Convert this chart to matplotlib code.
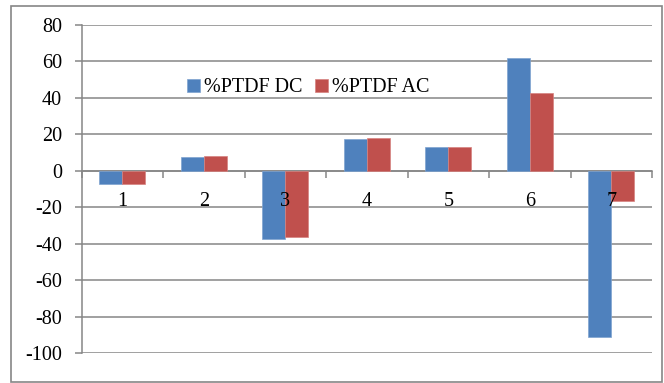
import numpy as np
import matplotlib.pyplot as plt
from matplotlib.patches import Rectangle

plt.rcParams['font.family'] = ['Liberation Serif', 'DejaVu Serif']

categories = ['1', '2', '3', '4', '5', '6', '7']
ptdf_dc = [-7.5, 7.8, -37.7, 17.6, 13.0, 62.0, -91.3]
ptdf_ac = [-7.5, 8.3, -36.2, 18.1, 13.3, 42.8, -16.8]
y_ticks = [-100, -80, -60, -40, -20, 0, 20, 40, 60, 80]

blue = '#4F81BD'
red = '#C0504D'
grey = '#868686'

fig = plt.figure(figsize=(6.64, 3.83), dpi=100)
ax = fig.add_axes([0.123, 0.0783, 0.859, 0.8564])

x = np.arange(1, len(categories) + 1)
w = 0.283
ax.bar(x - w / 2, ptdf_dc, w, color=blue, edgecolor='#7FA3D0', linewidth=0.5,
       label='%PTDF DC', zorder=3)
ax.bar(x + w / 2, ptdf_ac, w, color=red, edgecolor='#D68380', linewidth=0.5,
       label='%PTDF AC', zorder=3)

ax.set_xlim(0.5, len(categories) + 0.5)
ax.set_ylim(-100, 80)
ax.set_yticks(y_ticks)
ax.set_yticklabels([str(v) for v in y_ticks])
ax.yaxis.grid(True, color=grey, linewidth=1.1)
# gridlines behind the bars, category labels on top of them
ax.yaxis.set_zorder(0.5)
ax.xaxis.set_zorder(4)

# category axis crosses at zero, tick marks between categories
ax.spines['bottom'].set_position(('data', 0))
ax.spines['bottom'].set_color(grey)
ax.spines['bottom'].set_linewidth(1.1)
ax.spines['left'].set_color(grey)
ax.spines['left'].set_linewidth(1.1)
ax.spines['top'].set_visible(False)
ax.spines['right'].set_visible(False)

ax.set_xticks(np.arange(0.5, len(categories) + 1, 1.0))
ax.set_xticklabels([])
ax.set_xticks(x, minor=True)
ax.set_xticklabels(categories, minor=True)
ax.tick_params(axis='x', which='major', length=5, width=1.1, color=grey, direction='out')
ax.tick_params(axis='x', which='minor', length=0, pad=15, labelsize=14.5)
ax.tick_params(axis='y', length=5, width=1.1, color=grey, labelsize=14.5, pad=9)

leg = ax.legend(loc='center left', bbox_to_anchor=(0.185, 0.808), ncol=2, frameon=False,
                fontsize=14.5, handlelength=0.65, handleheight=0.65, handletextpad=0.2,
                columnspacing=0.6, borderaxespad=0, borderpad=0)

# outer chart border
fig.patches.append(Rectangle((11 / 664, 1 / 383), 651 / 664, 376 / 383,
                             transform=fig.transFigure, fill=False,
                             edgecolor=grey, linewidth=1.2))

fig.savefig('out.png', dpi=100)
